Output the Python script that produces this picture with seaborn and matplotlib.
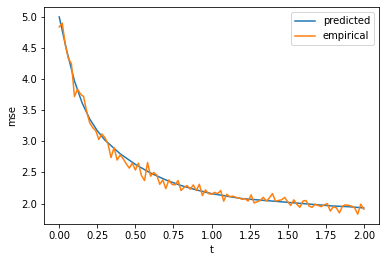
import numpy as np
import pandas as pd
import seaborn as sns
import matplotlib.pyplot as plt

# courbe prédite
t_pred = [0.0, 0.05, 0.1, 0.15, 0.2, 0.25, 0.3, 0.4, 0.5, 0.6, 0.7, 0.8, 0.9,
          1.0, 1.1, 1.2, 1.3, 1.4, 1.5, 1.6, 1.7, 1.8, 1.9, 2.0]
mse_pred = [5.00, 4.45, 3.97, 3.62, 3.36, 3.17, 3.02, 2.80, 2.63, 2.49, 2.38, 2.29, 2.22,
            2.16, 2.12, 2.08, 2.06, 2.04, 2.02, 2.00, 1.98, 1.96, 1.95, 1.93]

# mesures empiriques, pas de 0.02
t_emp = [round(0.02 * i, 2) for i in range(101)]
mse_emp = [4.84, 4.90, 4.55, 4.33, 4.25, 3.72, 3.84, 3.76, 3.72, 3.48,
           3.30, 3.22, 3.17, 3.03, 3.12, 3.06, 2.96, 2.74, 2.90, 2.70,
           2.78, 2.72, 2.64, 2.57, 2.65, 2.54, 2.65, 2.45, 2.37, 2.66,
           2.44, 2.50, 2.46, 2.31, 2.38, 2.24, 2.38, 2.31, 2.30, 2.37,
           2.21, 2.26, 2.29, 2.23, 2.30, 2.21, 2.31, 2.13, 2.22, 2.16,
           2.15, 2.18, 2.16, 2.21, 2.04, 2.15, 2.11, 2.12, 2.10, 2.09,
           2.07, 2.08, 2.04, 2.14, 2.01, 2.03, 2.05, 2.10, 2.04, 2.09,
           2.16, 2.04, 2.05, 2.06, 2.10, 2.03, 1.97, 2.06, 1.99, 1.94,
           2.04, 2.05, 1.96, 1.94, 1.99, 1.97, 1.95, 1.98, 2.00, 1.88,
           1.95, 1.93, 1.85, 1.96, 1.98, 1.97, 1.96, 1.93, 1.83, 1.99,
           1.91]

# rendu à 72 dpi pour avoir la même taille de texte que l'original
fig, ax = plt.subplots(figsize=(386 / 72, 262 / 72), dpi=72)
fig.subplots_adjust(left=0.114, right=0.982, top=0.973, bottom=0.145)

sns.lineplot(x=t_pred, y=mse_pred, ax=ax, label="predicted", color="tab:blue")
sns.lineplot(x=t_emp, y=mse_emp, ax=ax, label="empirical", color="tab:orange")

ax.set_xlabel("t")
ax.set_ylabel("mse")
ax.set_xticks([0.0, 0.25, 0.5, 0.75, 1.0, 1.25, 1.5, 1.75, 2.0])
ax.legend(loc="upper right")

plt.savefig("out.png", dpi=72)
